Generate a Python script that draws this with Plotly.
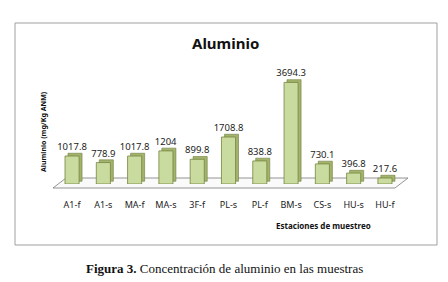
import plotly.graph_objects as go

categories = ["A1-f", "A1-s", "MA-f", "MA-s", "3F-f", "PL-s", "PL-f", "BM-s", "CS-s", "HU-s", "HU-f"]
values = [1017.8, 778.9, 1017.8, 1204, 899.8, 1708.8, 838.8, 3694.3, 730.1, 396.8, 217.6]
labels = ["1017.8", "778.9", "1017.8", "1204", "899.8", "1708.8", "838.8", "3694.3", "730.1", "396.8", "217.6"]

# page body has an 8px margin: figure is placed at (8, 8) in the window
OFF = 8
W, H = 440, 274
def px(x):
    return (x - OFF) / W
def py(y):
    return 1 - (y - OFF) / H

fig = go.Figure()
# depth / side shading of the 3-D bars
fig.add_trace(go.Bar(x=categories, y=values, base=100, width=0.45, offset=-0.13,
                     marker=dict(color="#a2b36c", line=dict(color="#6f7d3e", width=0.6)),
                     hoverinfo="skip", showlegend=False))
fig.add_trace(go.Bar(x=categories, y=values, width=0.45, offset=-0.225,
                     marker=dict(color="#c9db9f", line=dict(color="#76843f", width=0.8)),
                     text=labels, textposition="outside", cliponaxis=False, constraintext="none",
                     textfont=dict(family="Noto Sans", size=9.5, color="#222"),
                     showlegend=False))

def note(text, x, y, size, family="Noto Sans", angle=0):
    return dict(text=text, x=px(x), y=py(y), xref="paper", yref="paper", showarrow=False,
                xanchor="center", yanchor="middle", textangle=angle,
                font=dict(family=family, size=size, color="#111"))

fig.update_layout(
    width=W, height=H, margin=dict(l=0, r=0, t=0, b=0),
    paper_bgcolor="white", plot_bgcolor="rgba(0,0,0,0)",
    barmode="overlay",
    xaxis=dict(domain=[px(56.4), px(400.6)], showgrid=False, showline=False, zeroline=False,
               ticks="outside", ticklen=12, tickcolor="rgba(0,0,0,0)",
               tickfont=dict(family="Noto Sans", size=9, color="#222")),
    yaxis=dict(domain=[py(184), py(74)], range=[0, 4000], visible=False),
    shapes=[
        dict(type="rect", xref="paper", yref="paper", x0=px(15), x1=px(437), y0=py(245), y1=py(23),
             line=dict(color="#a0a0a0", width=1), layer="below"),
        dict(type="path", xref="paper", yref="paper",
             path=f"M {px(53)},{py(188)} L {px(395)},{py(188)} L {px(408)},{py(178)} L {px(66)},{py(178)} Z",
             line=dict(color="#7a7a7a", width=0.8), fillcolor="#fafafa", layer="below"),
    ],
    annotations=[
        note("<b>Aluminio</b>", 225, 43, 15),
        note("<b>Aluminio (mg/Kg ANM)</b>", 43, 132, 7, angle=-90),
        note("<b>Estaciones de muestreo</b>", 323, 225, 8),
        note("<b>Figura 3.</b> Concentración de aluminio en las muestras", 224, 268, 13,
             family="Liberation Serif"),
    ],
)

fig.write_html("out.html")
